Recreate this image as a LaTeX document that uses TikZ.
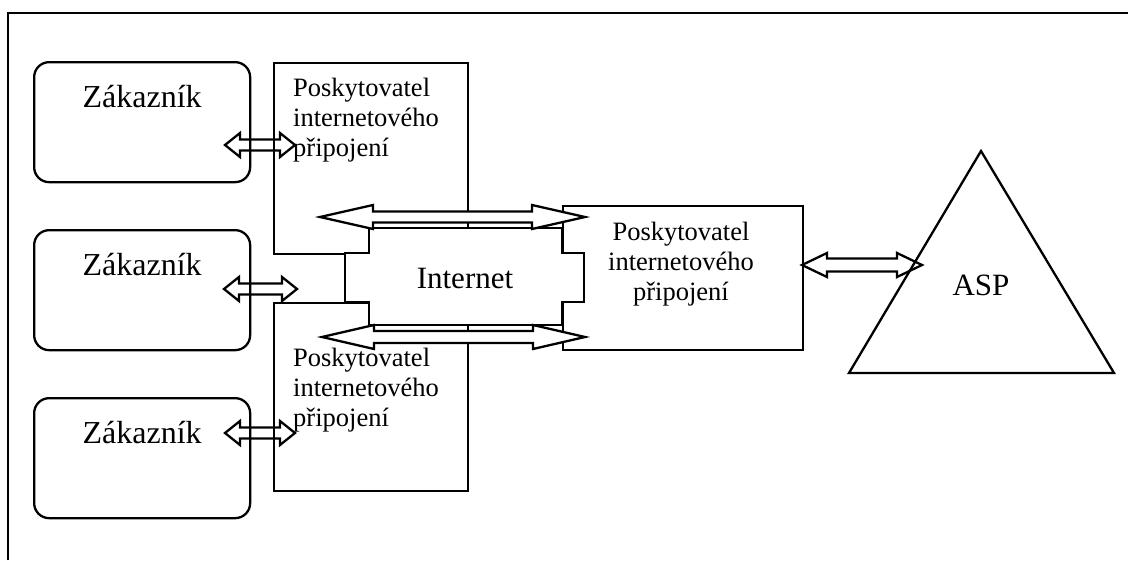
\documentclass[tikz,border=0pt]{standalone}
\usepackage{fontspec}
\setmainfont{Liberation Serif}
\usetikzlibrary{calc}

\tikzset{
  outline/.style={draw=black, line width=2.3pt, line join=miter},
  custbox/.style={outline, rounded corners=15pt, fill=white, anchor=north west,
    inner sep=0pt, minimum width=216pt, minimum height=120pt},
  ispbox/.style={outline, fill=white, anchor=north west, inner sep=0pt},
  bigtext/.style={font=\fontsize{32}{38}\selectfont, inner sep=0pt},
  midtext/.style={font=\fontsize{31}{36}\selectfont, inner sep=0pt},
  isptext/.style={font=\fontsize{26.5}{29.7}\selectfont, inner sep=0pt},
  blockarrow/.style={outline},
}

% horizontal block arrow with two heads:
% #2 left tip, #3 right tip, #4 head length, #5 head half-width, #6 shaft half-width
\newcommand\dblarrow[6][]{%
  \draw[blockarrow,#1] (#2) -- ($(#2)+(#4,-#5)$) -- ($(#2)+(#4,-#6)$)
    -- ($(#3)+(-#4,-#6)$) -- ($(#3)+(-#4,-#5)$) -- (#3)
    -- ($(#3)+(-#4,#5)$) -- ($(#3)+(-#4,#6)$)
    -- ($(#2)+(#4,#6)$) -- ($(#2)+(#4,#5)$) -- cycle;}

\begin{document}
\begin{tikzpicture}[x=1pt, y=-1pt]
\useasboundingbox (0,0) rectangle (1128,560);

% outer frame (only its top and left sides fall inside the page)
\draw[outline] (8,560) -- (8,13) -- (1128,13);

% customers
\node[custbox] (c1) at (33,61) {};
\node[custbox] (c2) at (33,229) {};
\node[custbox] (c3) at (33,397) {};
\foreach \c in {c1,c2,c3}
  \node[bigtext, anchor=base] (\c t) at ($(\c.north)+(0,46)$) {Zákazník};

% internet service providers
\node[ispbox, minimum width=194pt, minimum height=191pt] (p1) at (273,62) {};
\node[ispbox, minimum width=194pt, minimum height=188pt] (p2) at (273,302) {};
\node[ispbox, minimum width=240pt, minimum height=144pt] (p3) at (562,205) {};

% multi-line nodes: the base anchor sits on the last line
\node[isptext, anchor=base west, align=left] (p1t) at (293,156)
  {Poskytovatel\\internetového\\připojení};
\node[isptext, anchor=base west, align=left] (p2t) at (293,426)
  {Poskytovatel\\internetového\\připojení};
\node[isptext, anchor=base, align=center] (p3t) at (681,300)
  {Poskytovatel\\internetového\\připojení};

% the Internet, with its two side tabs
\draw[outline, fill=white] (369,228) -- (562,228) -- (562,253) -- (584,253)
  -- (584,302) -- (562,302) -- (562,325) -- (369,325) -- (369,302)
  -- (345,302) -- (345,253) -- (369,253) -- cycle;
\node[midtext, anchor=base] (net) at (465,288) {Internet};

% ASP
\coordinate (aspA) at (981,151);
\coordinate (aspL) at (849,373);
\coordinate (aspR) at (1114,373);
\draw[outline, fill=white] (aspA) -- (aspR) -- (aspL) -- cycle;
\node[midtext, anchor=base] (asp) at (981,295) {ASP};

% links across the Internet
\coordinate (tL) at (320,217);  \coordinate (tR) at (585,217);
\coordinate (bL) at (322,337);  \coordinate (bR) at (585,337);
\dblarrow[fill=white]{tL}{tR}{53}{12}{5.5}
\dblarrow[fill=white]{bL}{bR}{52}{12}{6}

% customer links
\coordinate (a1L) at (225,145); \coordinate (a1R) at (295,145);
\coordinate (a2L) at (224,289); \coordinate (a2R) at (297,289);
\coordinate (a3L) at (225,433); \coordinate (a3R) at (295,433);
\dblarrow{a1L}{a1R}{15}{12}{5.5}
\dblarrow{a2L}{a2R}{15}{12}{5.5}
\dblarrow{a3L}{a3R}{15}{12}{5.5}

% provider to ASP link
\coordinate (sL) at (802,265); \coordinate (sR) at (922,265);
\dblarrow{sL}{sR}{25}{12}{6.5}
\end{tikzpicture}
\end{document}
